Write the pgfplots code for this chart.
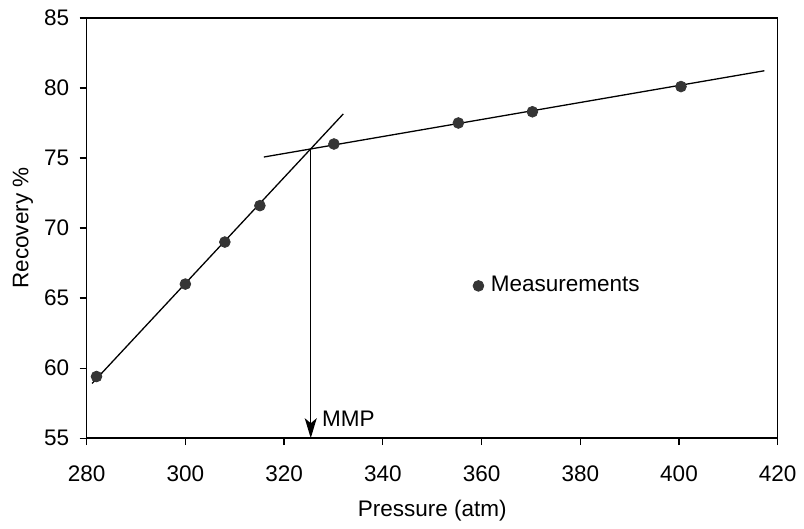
\documentclass[border=0pt]{standalone}
\usepackage{pgfplots}
\pgfplotsset{compat=1.18}
\usepackage{fontspec}
\setmainfont{Liberation Sans}
\usetikzlibrary{arrows.meta}
\definecolor{dotgray}{HTML}{353535}
\begin{document}
\fontsize{11.3pt}{13pt}\selectfont
\begin{tikzpicture}
\begin{axis}[
  scale only axis,
  width=347pt, height=211pt,
  xmin=280, xmax=420, ymin=55, ymax=85,
  xtick={280,300,...,420},
  ytick={55,60,...,85},
  tick align=outside,
  tick pos=left,
  major tick length=3.5pt,
  axis line style={line width=0.7pt},
  every tick/.style={black, line width=0.6pt},
  /pgf/number format/assume math mode=true,
  /pgf/number format/1000 sep={},
  ticklabel style={font=\fontsize{11.3pt}{13pt}\selectfont},
  xticklabel style={yshift=-6.5pt},
  yticklabel style={xshift=-1.3pt},
  xlabel={Pressure (atm)},
  ylabel={Recovery \%},
  label style={font=\fontsize{11.3pt}{13pt}\selectfont},
  xlabel style={at={(axis description cs:0.5,-0.173)}, anchor=center},
  ylabel style={at={(axis description cs:-0.0922,0.5)}, anchor=center, rotate=0},
  clip=false,
  legend style={draw=none, fill=none, at={(axis cs:358.2,65.87)}, anchor=west,
    inner sep=0pt, font=\fontsize{11.3pt}{13pt}\selectfont},
  legend cell align=left,
]
\addplot[only marks, mark=*, mark size=2.7pt, draw=dotgray, fill=dotgray,
  mark options={draw=dotgray, fill=dotgray}] coordinates {
  (282,59.4) (300,66.0) (308,69.0) (315.1,71.6) (330.1,76.0)
  (355.3,77.5) (370.3,78.3) (400.4,80.1)
};
\addlegendentry{\hspace{1.5pt}Measurements}
\addplot[black, line width=0.65pt, forget plot] coordinates {(281.1,58.9) (332.0,78.15)};
\addplot[black, line width=0.65pt, forget plot] coordinates {(315.9,75.07) (417.3,81.23)};
\addplot[black, line width=0.65pt, forget plot, -{Stealth[length=10pt,width=6pt,inset=2.5pt]}] coordinates {(325.4,75.65) (325.4,55)};
\node[anchor=west, inner sep=0pt] at (axis cs:327.6,56.37) {MMP};
\coordinate (bl) at (rel axis cs:0,0);
\coordinate (tr) at (rel axis cs:1,1);
\end{axis}
\path ([shift={(-43.5pt,-41.5pt)}]bl) rectangle ([shift={(11.5pt,9pt)}]tr);
\end{tikzpicture}
\end{document}
